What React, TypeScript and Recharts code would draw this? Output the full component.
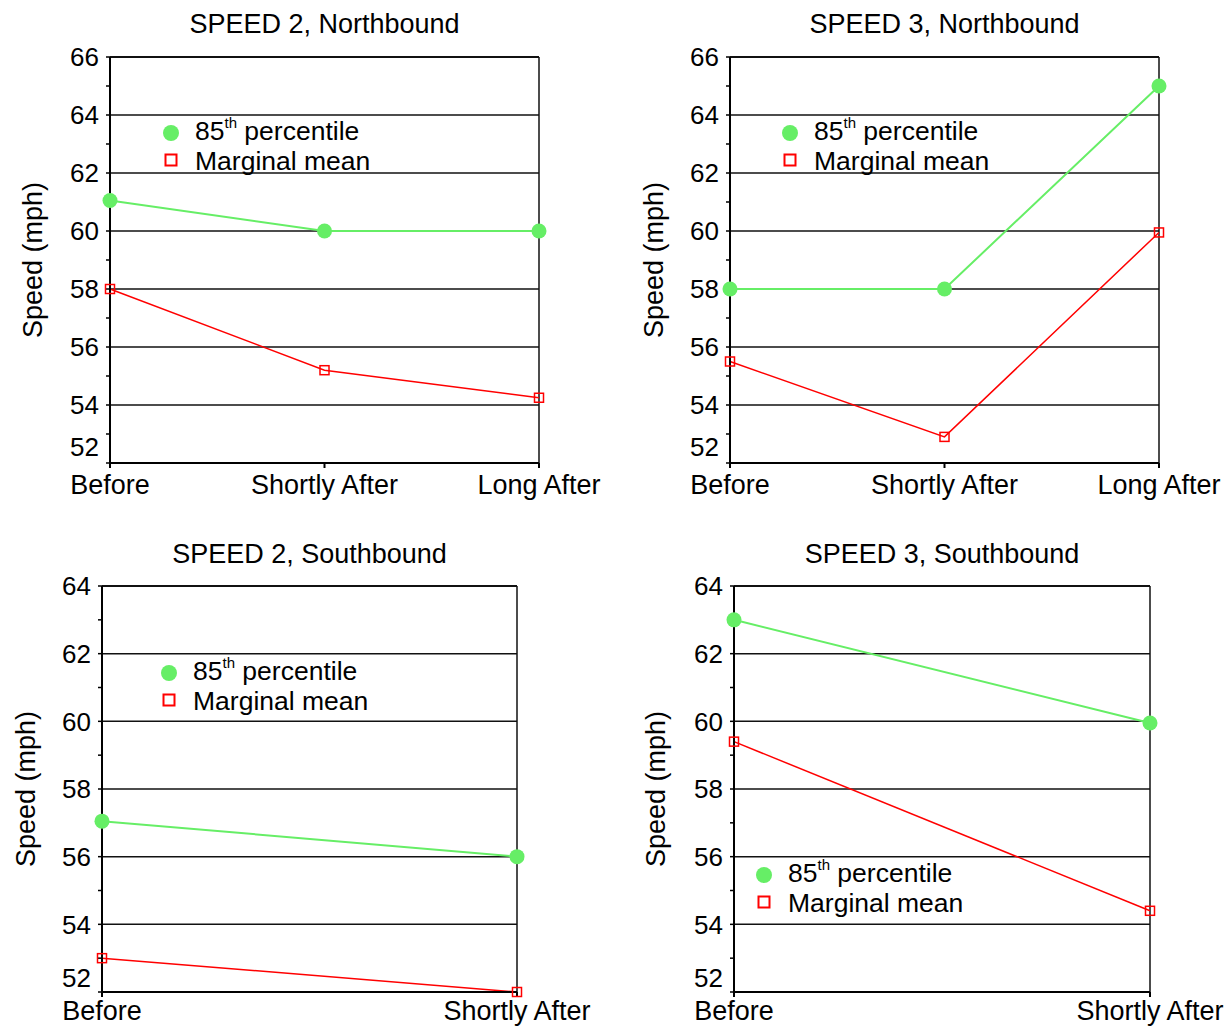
import React from "react";
import { LineChart, Line, XAxis, YAxis, ReferenceLine, Legend } from "recharts";

const phasesLong = ["Before", "Shortly After", "Long After"];
const phasesShort = ["Before", "Shortly After"];

const nb2P85 = [61.05, 60, 60];
const nb2Mean = [58, 55.2, 54.25];
const nb3P85 = [58, 58, 65];
const nb3Mean = [55.5, 52.9, 59.95];
const sb2P85 = [57.05, 56];
const sb2Mean = [53, 52];
const sb3P85 = [63, 59.95];
const sb3Mean = [59.4, 54.4];

const northTicks = [52, 53, 54, 55, 56, 57, 58, 59, 60, 61, 62, 63, 64, 65, 66];
const southTicks = [52, 53, 54, 55, 56, 57, 58, 59, 60, 61, 62, 63, 64];
const northGrid = [54, 56, 58, 60, 62, 64, 66];
const southGrid = [54, 56, 58, 60, 62, 64];

const FONT = "'Liberation Sans', Arial, sans-serif";
const GREEN = "#66ee66";
const RED = "#ff0000";

function YTick(props: any) {
  const { x, y, payload, lowShift } = props;
  const v = payload.value;
  if (v % 2 !== 0) return null;
  const dy = v === 52 ? lowShift : 0;
  return (
    <text x={x} y={y + dy} dy="0.36em" textAnchor="end" fontSize={26} fill="#000" fontFamily={FONT}>
      {v}
    </text>
  );
}

function XTick(props: any) {
  const { x, y, payload, baseDy } = props;
  return (
    <text x={x} y={y} dy={baseDy} textAnchor="middle" fontSize={27} fill="#000" fontFamily={FONT}>
      {payload.value}
    </text>
  );
}

function SquareDot(props: any) {
  const { cx, cy, index } = props;
  return (
    <rect key={"sq" + index} x={cx - 4.5} y={cy - 4.5} width={9} height={9} fill="none" stroke={RED} strokeWidth={1.5} />
  );
}

function renderLegend(props: any) {
  const { payload } = props;
  return (
    <svg width={240} height={64} style={{ display: "block", overflow: "visible" }}>
      {(payload || []).map((entry: any, i: number) => {
        const cy = 14 + i * 27;
        const base = i === 0 ? cy + 7 : cy + 10;
        const m = /^(\d+)(th)(.*)$/.exec(entry.value);
        return (
          <g key={entry.value}>
            {entry.type === "circle" ? (
              <circle cx={12} cy={cy} r={8} fill={entry.color} />
            ) : (
              <rect x={6.5} y={cy - 5.5} width={11} height={11} fill="none" stroke={entry.color} strokeWidth={2} />
            )}
            <text x={36} y={base} fontSize={26.5} fill="#000" fontFamily={FONT}>
              {m ? (
                <>
                  {m[1]}
                  <tspan fontSize={15} dy={-12}>{m[2]}</tspan>
                  <tspan dy={12}>{m[3]}</tspan>
                </>
              ) : (
                entry.value
              )}
            </text>
          </g>
        );
      })}
    </svg>
  );
}

type PanelProps = {
  title: string;
  phases: string[];
  p85: number[];
  mean: number[];
  ticks: number[];
  grid: number[];
  left: number;
  top: number;
  width: number;
  height: number;
  margin: { top: number; right: number; bottom: number; left: number };
  yWidth: number;
  xHeight: number;
  labelX: number;
  legendLeft: number;
  legendTop: number;
  titleTop: number;
  lowShift: number;
  xBaseDy: number;
};

function Panel(p: PanelProps) {
  const data = p.phases.map((phase, i) => ({ phase, p85: p.p85[i], mean: p.mean[i] }));
  const yMin = p.ticks[0];
  const yMax = p.ticks[p.ticks.length - 1];
  const plotLeft = p.margin.left + p.yWidth;
  const plotRight = p.width - p.margin.right;
  const plotCenter = (plotLeft + plotRight) / 2;
  return (
    <div style={{ position: "absolute", left: p.left, top: p.top, width: p.width, height: p.height }}>
      <div
        style={{
          position: "absolute",
          left: plotCenter - 250,
          width: 500,
          top: p.titleTop,
          textAlign: "center",
          fontSize: 27,
          lineHeight: "27px",
          fontFamily: FONT,
          color: "#000",
          whiteSpace: "nowrap",
        }}
      >
        {p.title}
      </div>
      <LineChart width={p.width} height={p.height} data={data} margin={p.margin}>
        <XAxis
          dataKey="phase"
          height={p.xHeight}
          interval={0}
          tickSize={5}
          tickMargin={7}
          axisLine={{ stroke: "#000", strokeWidth: 2 }}
          tickLine={{ stroke: "#000", strokeWidth: 2 }}
          tick={<XTick baseDy={p.xBaseDy} />}
        />
        <YAxis
          width={p.yWidth}
          domain={[yMin, yMax]}
          ticks={p.ticks}
          interval={0}
          tickSize={4}
          tickMargin={7}
          axisLine={{ stroke: "#000", strokeWidth: 2 }}
          tickLine={{ stroke: "#000", strokeWidth: 1.5 }}
          tick={<YTick lowShift={p.lowShift} />}
          label={{
            content: (lp: any) => {
              const vb = lp.viewBox || {};
              const cx = (vb.x || 0) + p.labelX;
              const cy = (vb.y || 0) + (vb.height || 0) / 2;
              return (
                <text
                  x={cx}
                  y={cy}
                  transform={`rotate(-90 ${cx} ${cy})`}
                  textAnchor="middle"
                  dy="0.36em"
                  fontSize={27}
                  fill="#000"
                  fontFamily={FONT}
                >
                  Speed (mph)
                </text>
              );
            },
          }}
        />
        {p.grid.map((g) => (
          <ReferenceLine key={g} y={g} stroke="#111" strokeWidth={g === yMax ? 2 : 1.5} />
        ))}
        <ReferenceLine x={p.phases[p.phases.length - 1]} stroke="#111" strokeWidth={1.5} />
        <Legend
          layout="vertical"
          align="center"
          verticalAlign="middle"
          content={renderLegend}
          wrapperStyle={{ left: p.legendLeft, top: p.legendTop, width: 240 }}
        />
        <Line
          dataKey="p85"
          name="85th percentile"
          legendType="circle"
          stroke={GREEN}
          strokeWidth={2}
          dot={{ r: 7.5, fill: GREEN, stroke: "none" }}
          activeDot={false}
          isAnimationActive={false}
        />
        <Line
          dataKey="mean"
          name="Marginal mean"
          legendType="square"
          stroke={RED}
          strokeWidth={1.5}
          dot={<SquareDot />}
          activeDot={false}
          isAnimationActive={false}
        />
      </LineChart>
    </div>
  );
}

export default function App() {
  return (
    <div style={{ position: "absolute", left: 0, top: 0, width: 1227, height: 1026, background: "#fff" }}>
      <Panel
        title="SPEED 2, Northbound"
        phases={phasesLong}
        p85={nb2P85}
        mean={nb2Mean}
        ticks={northTicks}
        grid={northGrid}
        left={0}
        top={0}
        width={615}
        height={515}
        margin={{ top: 57, right: 76, bottom: 12, left: 0 }}
        yWidth={110}
        xHeight={40}
        labelX={32}
        legendLeft={159}
        legendTop={119}
        titleTop={11}
        lowShift={-16}
        xBaseDy={18.5}
      />
      <Panel
        title="SPEED 3, Northbound"
        phases={phasesLong}
        p85={nb3P85}
        mean={nb3Mean}
        ticks={northTicks}
        grid={northGrid}
        left={615}
        top={0}
        width={612}
        height={515}
        margin={{ top: 57, right: 68, bottom: 12, left: 0 }}
        yWidth={115}
        xHeight={40}
        labelX={38}
        legendLeft={163}
        legendTop={119}
        titleTop={11}
        lowShift={-16}
        xBaseDy={18.5}
      />
      <Panel
        title="SPEED 2, Southbound"
        phases={phasesShort}
        p85={sb2P85}
        mean={sb2Mean}
        ticks={southTicks}
        grid={southGrid}
        left={0}
        top={515}
        width={615}
        height={511}
        margin={{ top: 71, right: 98, bottom: 0, left: 0 }}
        yWidth={102}
        xHeight={34}
        labelX={25}
        legendLeft={157}
        legendTop={144}
        titleTop={26}
        lowShift={-14}
        xBaseDy={16}
      />
      <Panel
        title="SPEED 3, Southbound"
        phases={phasesShort}
        p85={sb3P85}
        mean={sb3Mean}
        ticks={southTicks}
        grid={southGrid}
        left={615}
        top={515}
        width={612}
        height={511}
        margin={{ top: 71, right: 77, bottom: 0, left: 0 }}
        yWidth={119}
        xHeight={34}
        labelX={40}
        legendLeft={137}
        legendTop={346}
        titleTop={26}
        lowShift={-14}
        xBaseDy={16}
      />
    </div>
  );
}
